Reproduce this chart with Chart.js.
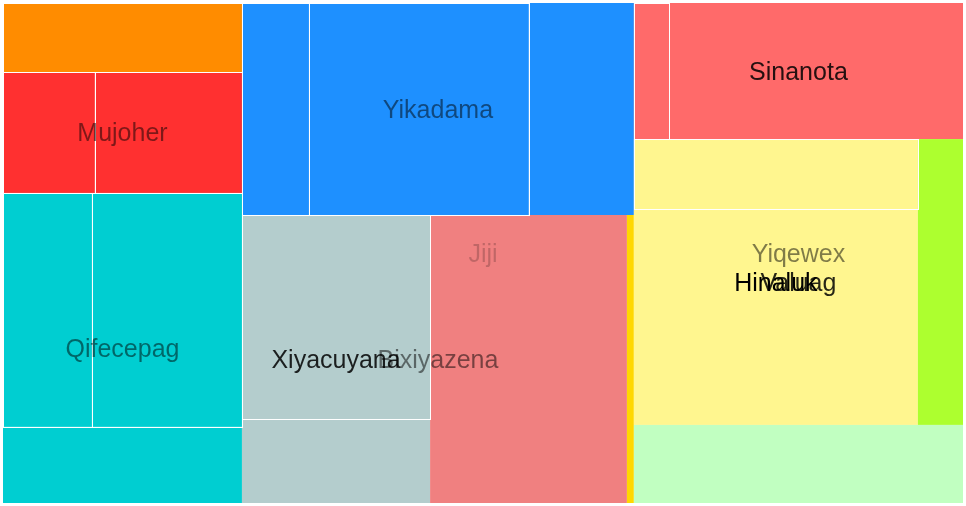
<!DOCTYPE html>
<html>
<head>
<meta charset="utf-8">
<script src="https://cdn.jsdelivr.net/npm/chart.js@4/dist/chart.umd.min.js"></script>
<style>
  html, body { margin: 0; padding: 0; background: #ffffff; }
  #wrap { width: 966px; height: 506px; }
</style>
</head>
<body>
<div id="wrap"><canvas id="c" width="966" height="506"></canvas></div>
<script>
// ---- DATA ----
// each leaf: its path in the hierarchy (root/group/subgroup) and its value
const leafPaths = [
  "Jiji",
  "Jiji/Mujoher", "Jiji/Mujoher",
  "Jiji/Qifecepag", "Jiji/Qifecepag", "Jiji/Qifecepag",
  "Jiji/Yikadama", "Jiji/Yikadama", "Jiji/Yikadama",
  "Jiji/Bixiyazena/Xiyacuyana", "Jiji/Bixiyazena/Xiyacuyana",
  "Jiji/Bixiyazena", "Jiji/Bixiyazena",
  "Jiji/Yiqewex/Sinanota", "Jiji/Yiqewex/Sinanota",
  "Jiji/Yiqewex/Valuag/Hinaluk", "Jiji/Yiqewex/Valuag/Hinaluk",
  "Jiji/Yiqewex/Valuag",
  "Jiji/Yiqewex"
];
const leafValues = [
  165,
  111, 178,
  208, 351, 182,
  142, 466, 223,
  384, 158,
  567, 20,
  48, 400,
  199, 613,
  129,
  257
];

// ---- STYLE ----
const leafColors = [
  "#FF8C00",
  "#FF3030", "#FF3030",
  "#00CED1", "#00CED1", "#00CED1",
  "#1E90FF", "#1E90FF", "#1E90FF",
  "#B4CDCD", "#B4CDCD",
  "#F08080", "#FFD700",
  "#FF6A6A", "#FF6A6A",
  "#FFF68F", "#FFF68F",
  "#ADFF2F",
  "#C1FFC1"
];
const labelAlphaByDepth = [0.2, 0.5, 0.85, 1.0];
const labelFont = "25px 'Liberation Sans', Arial, sans-serif";
const labelDy = 2;

// ---- build hierarchy ----
const root = { name: "Jiji", depth: 0, children: [], value: 0 };
leafPaths.forEach((p, i) => {
  const parts = p.split("/");
  let node = root;
  for (let k = 1; k < parts.length; k++) {
    let c = node.children.find(n => n.children && n.name === parts[k]);
    if (!c) { c = { name: parts[k], depth: k, children: [], value: 0 }; node.children.push(c); }
    node = c;
  }
  node.children.push({ leaf: true, value: leafValues[i], color: leafColors[i], depth: parts.length, parent: node });
});
(function sum(n) {
  if (n.leaf) return n.value;
  n.value = n.children.reduce((s, c) => s + sum(c), 0);
  n.children.forEach(c => c.parent = n);
  return n.value;
})(root);

// ---- squarified strip layout (orientation fixed by node shape) ----
function layout(node, x0, y0, x1, y1) {
  node.r = [x0, y0, x1, y1];
  if (node.leaf) return;
  const w = x1 - x0, h = y1 - y0;
  const scale = (w * h) / node.value;
  const cols = w >= h;
  const kids = node.children;
  function worst(a, b) {
    let s = 0; for (let k = a; k < b; k++) s += kids[k].value * scale;
    let wr = 0;
    for (let k = a; k < b; k++) {
      const area = kids[k].value * scale;
      let cw, ch;
      if (cols) { cw = s / h; ch = area / cw; } else { ch = s / w; cw = area / ch; }
      wr = Math.max(wr, cw / ch, ch / cw);
    }
    return wr;
  }
  let i = 0, cx = x0, cy = y0;
  while (i < kids.length) {
    let j = i + 1, best = worst(i, j);
    while (j < kids.length) {
      const r = worst(i, j + 1);
      if (r <= best) { best = r; j++; } else break;
    }
    let s = 0; for (let k = i; k < j; k++) s += kids[k].value * scale;
    if (cols) {
      const cw = s / h; let yy = y0;
      for (let k = i; k < j; k++) { const hh = kids[k].value * scale / cw; layout(kids[k], cx, yy, cx + cw, yy + hh); yy += hh; }
      cx += cw;
    } else {
      const rh = s / w; let xx = x0;
      for (let k = i; k < j; k++) { const ww = kids[k].value * scale / rh; layout(kids[k], xx, cy, xx + ww, cy + rh); xx += ww; }
      cy += rh;
    }
    i = j;
  }
}

function collect(n, leaves, groups) {
  if (n.leaf) { leaves.push(n); return; }
  groups.push(n);
  n.children.forEach(c => collect(c, leaves, groups));
}

const treemapPlugin = {
  id: "treemapCells",
  beforeDatasetsDraw(chart) {
    const { ctx, chartArea: ca, scales: { x, y } } = chart;
    const W = ca.right - ca.left, H = ca.bottom - ca.top;
    layout(root, 0, 0, W, H);
    const px = v => x.getPixelForValue(v / W);
    const py = v => y.getPixelForValue(v / H);
    const leaves = [], groups = [];
    collect(root, leaves, groups);
    ctx.save();
    leaves.forEach(l => {
      const [a, b, c, d] = l.r;
      ctx.fillStyle = l.color;
      ctx.fillRect(px(a), py(b), px(c) - px(a), py(d) - py(b));
    });
    ctx.strokeStyle = "#ffffff";
    ctx.lineWidth = 1;
    leaves.forEach(l => {
      const sib = l.parent.children;
      const last = sib[sib.length - 1] === l;
      const allLeaf = sib.every(s => s.leaf);
      if (!last && (allLeaf || l.parent === root)) {
        const [a, b, c, d] = l.r;
        ctx.strokeRect(Math.round(px(a)) + 0.5, Math.round(py(b)) + 0.5,
          Math.round(px(c)) - Math.round(px(a)), Math.round(py(d)) - Math.round(py(b)));
      }
    });
    ctx.font = labelFont;
    ctx.textAlign = "center";
    ctx.textBaseline = "middle";
    groups.sort((g1, g2) => g1.depth - g2.depth).forEach(g => {
      const [a, b, c, d] = g.r;
      ctx.fillStyle = "rgba(0,0,0," + labelAlphaByDepth[Math.min(g.depth, 3)] + ")";
      ctx.fillText(g.name, (px(a) + px(c)) / 2, (py(b) + py(d)) / 2 + labelDy);
    });
    ctx.restore();
  }
};

new Chart(document.getElementById("c"), {
  type: "scatter",
  data: { datasets: [{ data: [] }] },
  options: {
    responsive: false,
    animation: false,
    layout: { padding: { left: 3, top: 3, right: 3, bottom: 3 } },
    scales: {
      x: { type: "linear", min: 0, max: 1, display: false },
      y: { type: "linear", min: 0, max: 1, reverse: true, display: false }
    },
    plugins: { legend: { display: false }, tooltip: { enabled: false } }
  },
  plugins: [treemapPlugin]
});
</script>
</body>
</html>
